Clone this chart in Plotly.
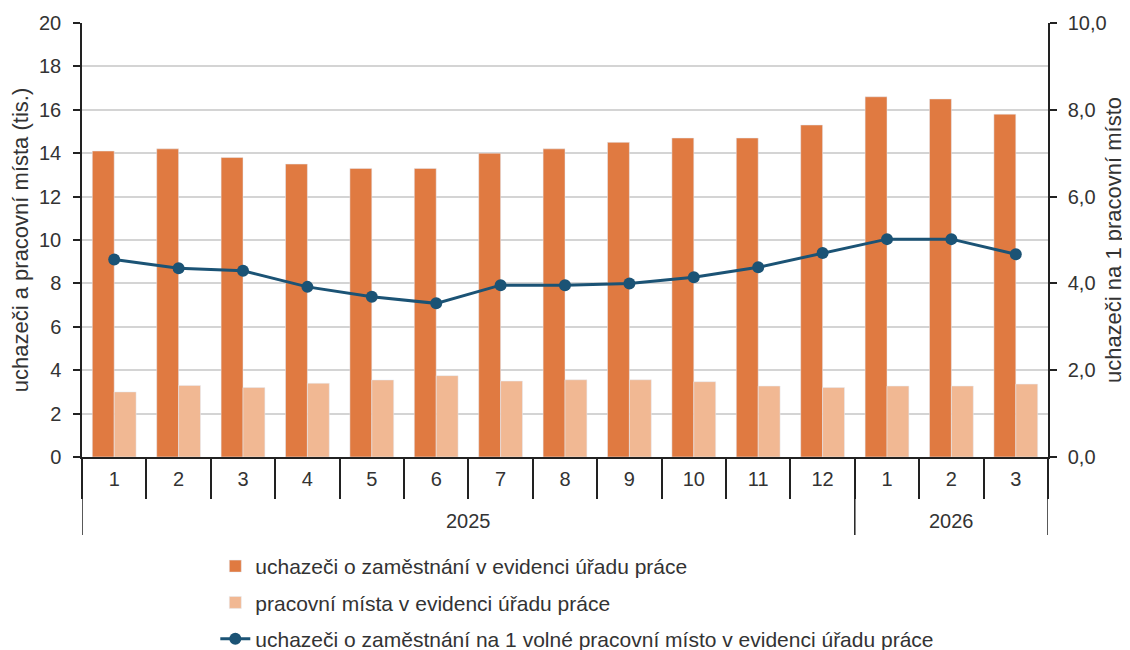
import plotly.graph_objects as go

years = ["2025"] * 12 + ["2026"] * 3
months = [str(m) for m in range(1, 13)] + ["1", "2", "3"]

uchazeci = [14.1, 14.2, 13.8, 13.5, 13.3, 13.3, 14.0, 14.2, 14.5, 14.7, 14.7, 15.3, 16.6, 16.5, 15.8]
mista = [3.0, 3.3, 3.2, 3.4, 3.55, 3.75, 3.5, 3.56, 3.56, 3.47, 3.27, 3.2, 3.27, 3.27, 3.36]
na_misto = [4.55, 4.35, 4.29, 3.92, 3.69, 3.54, 3.96, 3.96, 4.0, 4.14, 4.37, 4.7, 5.02, 5.02, 4.67]

names = [
    "uchazeči o zaměstnání v evidenci úřadu práce",
    "pracovní místa v evidenci úřadu práce",
    "uchazeči o zaměstnání na 1 volné pracovní místo v evidenci úřadu práce",
]

C_DARK = "#E07A41"
C_LIGHT = "#F1B893"
C_LINE = "#1B5375"
FONT = "Liberation Sans, Arial, sans-serif"
FONT_N = "Liberation Sans Narrow, Arial Narrow, Liberation Sans, sans-serif"
TXT = "#333333"
AX = "#222222"

n = len(months)
xpos = list(range(n))

fig = go.Figure()
fig.add_trace(go.Bar(x=xpos, y=uchazeci, name=names[0], marker_color=C_DARK,
                     legendgroup="a", yaxis="y"))
fig.add_trace(go.Bar(x=xpos, y=mista, name=names[1], marker_color=C_LIGHT,
                     legendgroup="b", yaxis="y"))
fig.add_trace(go.Scatter(x=xpos, y=na_misto, name=names[2], mode="lines+markers",
                         line=dict(color=C_LINE, width=3),
                         marker=dict(color=C_LINE, size=12),
                         legendgroup="c", yaxis="y2"))

# year group boundaries and label centres
bounds = [-0.5]
for i in range(1, n):
    if years[i] != years[i - 1]:
        bounds.append(i - 0.5)
bounds.append(n - 0.5)

shapes = []
annotations = []
for k in range(len(bounds)):
    shapes.append(dict(type="line", xref="x", yref="paper", x0=bounds[k], x1=bounds[k],
                       y0=0, y1=-0.18, line=dict(color=AX, width=1.5)))
for k in range(len(bounds) - 1):
    yr = years[int(bounds[k] + 0.5)]
    annotations.append(dict(text=yr, xref="x", yref="paper", x=(bounds[k] + bounds[k + 1]) / 2,
                            y=-0.147, yanchor="middle", showarrow=False,
                            font=dict(family=FONT, size=20, color=TXT)))

fig.update_layout(
    width=1130, height=650,
    margin=dict(l=74, r=90, t=15, b=201, autoexpand=False),
    paper_bgcolor="white", plot_bgcolor="white",
    separators=", ",
    font=dict(family=FONT, size=20, color=TXT),
    barmode="group", bargap=0.32, bargroupgap=0,
    showlegend=True,
    legend=dict(x=0.138, y=-0.205, xanchor="left", yanchor="top",
                orientation="v", tracegroupgap=6,
                font=dict(family=FONT, size=21, color=TXT),
                bgcolor="rgba(0,0,0,0)"),
    shapes=shapes,
    annotations=annotations,
    xaxis=dict(range=[-0.5, n - 0.5], tickmode="array", tickvals=xpos, ticktext=months,
               showline=True, linecolor=AX, linewidth=1.5,
               ticks="outside", ticklen=3, tickcolor="rgba(0,0,0,0)",
               minor=dict(ticks="outside", tick0=0.5, dtick=1, ticklen=40,
                          tickcolor=AX, tickwidth=1.5, showgrid=False),
               showgrid=False, zeroline=False, automargin=False,
               tickfont=dict(family=FONT, size=20, color=TXT)),
    yaxis=dict(range=[0, 20], dtick=2, showline=True, linecolor=AX, linewidth=1.5,
               ticks="outside", ticklen=7, tickcolor=AX, tickwidth=1.5,
               ticklabelstandoff=8,
               showgrid=True, gridcolor="#d4d4d4", gridwidth=1.5, zeroline=False,
               automargin=False,
               title=dict(text="uchazeči a pracovní místa (tis.)", standoff=4,
                          font=dict(family=FONT_N, size=22, color=TXT)),
               tickfont=dict(family=FONT, size=20, color=TXT)),
    yaxis2=dict(range=[0, 10], dtick=2, tickformat=".1f", overlaying="y", side="right",
                showline=True, linecolor=AX, linewidth=1.5,
                ticks="outside", ticklen=7, tickcolor=AX, tickwidth=1.5,
                ticklabelstandoff=7,
                showgrid=False, zeroline=False, automargin=False,
                title=dict(text="uchazeči na 1 pracovní místo", standoff=0,
                           font=dict(family=FONT_N, size=22, color=TXT)),
                tickfont=dict(family=FONT, size=20, color=TXT)),
)

fig.write_html("out.html")
